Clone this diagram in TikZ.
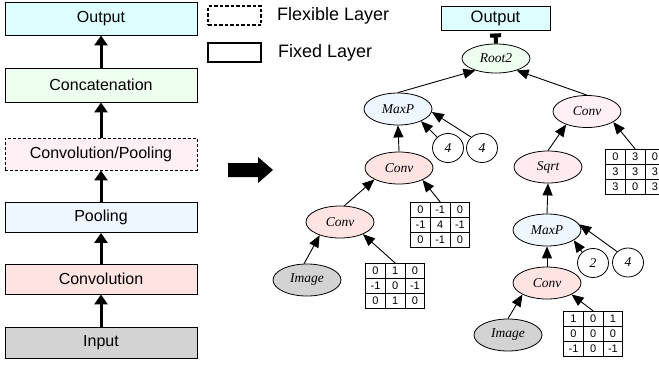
\documentclass[tikz,border=0pt]{standalone}
\usepackage{fontspec}
\setmainfont{Liberation Sans}
\newfontfamily\treefont{Liberation Serif}
\usetikzlibrary{arrows.meta,shapes.geometric,matrix}

\definecolor{outcol}{HTML}{DDFFFF}
\definecolor{catcol}{HTML}{EFFFEF}
\definecolor{flexcol}{HTML}{FFF0F5}
\definecolor{poolcol}{HTML}{EEF6FF}
\definecolor{convcol}{HTML}{FFE4E1}
\definecolor{incol}{HTML}{D3D3D3}
\definecolor{sqrtcol}{HTML}{FFEAF0}

\tikzset{
  layerbox/.style={draw, line width=0.9pt, minimum width=192pt, minimum height=31pt,
    inner sep=0pt, font=\fontsize{16}{18}\selectfont},
  flexbox/.style={layerbox, dash pattern=on 3pt off 2pt},
  flowarrow/.style={line width=3pt, -{Triangle[width=13pt,length=10pt]}},
  keybox/.style={draw, line width=1.1pt, minimum width=53pt, minimum height=19pt, inner sep=0pt},
  keytext/.style={anchor=west, inner sep=0pt, font=\fontsize{18}{20}\selectfont},
  opnode/.style={ellipse, draw, line width=0.8pt, minimum width=68pt, minimum height=32pt,
    inner sep=0pt, font=\treefont\itshape\fontsize{13.5}{15}\selectfont},
  leafnode/.style={ellipse, draw, line width=0.8pt, minimum width=31pt, minimum height=29pt,
    inner sep=0pt, fill=white, font=\treefont\itshape\fontsize{13.5}{15}\selectfont},
  treeedge/.style={line width=0.9pt, -{Triangle[width=10pt,length=12pt]}},
  cellgrid/.style={matrix of nodes, anchor=north west, inner sep=0pt,
    column sep=-0.9pt, row sep=-0.9pt,
    nodes={draw, line width=0.9pt, minimum width=19.7pt, minimum height=15pt,
      inner sep=0pt, anchor=center, font=\fontsize{11}{12}\selectfont}}
}

\begin{document}
\begin{tikzpicture}[x=1pt,y=-1pt]
\useasboundingbox (0,0) rectangle (659,365);

% layer stack
\node[layerbox, fill=outcol, minimum height=33pt] (lout) at (101,18.5) {Output};
\node[layerbox, fill=catcol, minimum height=34pt] (lcat) at (101,85) {Concatenation};
\node[flexbox, fill=flexcol, minimum height=32pt] (lflex) at (101,154) {Convolution/Pooling};
\node[layerbox, fill=poolcol, minimum height=30pt] (lpool) at (101,217.5) {Pooling};
\node[layerbox, fill=convcol, minimum height=30pt] (lconv) at (101,279) {Convolution};
\node[layerbox, fill=incol, minimum height=31pt] (lin) at (101,342.5) {Input};

\draw[flowarrow] (lin.north) -- (lconv.south);
\draw[flowarrow] (lconv.north) -- (lpool.south);
\draw[flowarrow] (lpool.north) -- (lflex.south);
\draw[flowarrow] (lflex.north) -- (lcat.south);
\draw[flowarrow] (lcat.north) -- (lout.south);

% legend
\node[keybox, dash pattern=on 3.5pt off 2pt] (kflex) at (234.5,15.5) {};
\node[keytext] (tflex) at (277,16) {Flexible Layer};
\node[keybox] (kfix) at (234.5,52.5) {};
\node[keytext] (tfix) at (278,52.5) {Fixed Layer};

% transition arrow
\fill (228,163) -- (258,163) -- (258,157) -- (273,170) -- (258,183) -- (258,177) -- (228,177) -- cycle;

% expression tree
\node[draw, line width=0.9pt, fill=outcol, minimum width=109pt, minimum height=24pt,
  inner sep=0pt, font=\fontsize{16.5}{18}\selectfont] (tout) at (495.5,18) {Output};
\node[opnode, fill=catcol, minimum height=29pt] (root) at (496,58.5) {Root2};

\node[opnode, fill=poolcol] (maxpl) at (398,109) {MaxP};
\node[leafnode] (fa) at (448,148) {4};
\node[leafnode] (fb) at (482,148) {4};
\node[opnode, fill=convcol] (convla) at (399,168) {Conv};
\node[opnode, fill=convcol] (convlb) at (340,222) {Conv};
\node[opnode, fill=incol] (imgl) at (307,280) {Image};
\matrix[cellgrid] (ma) at (410,202) {0 & -1 & 0\\ -1 & 4 & -1\\ 0 & -1 & 0\\};
\matrix[cellgrid] (mb) at (365,263) {0 & 1 & 0\\ -1 & 0 & -1\\ 0 & 1 & 0\\};

\node[opnode, fill=flexcol] (convr) at (587,111.5) {Conv};
\node[opnode, fill=sqrtcol] (sqrt) at (548,167) {Sqrt};
\matrix[cellgrid] (mc) at (605,149) {0 & 3 & 0\\ 3 & 3 & 3\\ 3 & 0 & 3\\};
\node[opnode, fill=poolcol] (maxpr) at (547,230) {MaxP};
\node[leafnode] (fc) at (593,263) {2};
\node[leafnode] (fd) at (628,262.5) {4};
\node[opnode, fill=convcol] (convrb) at (547,283) {Conv};
\node[opnode, fill=incol] (imgr) at (508,335) {Image};
\matrix[cellgrid] (md) at (563,311) {1 & 0 & 1\\ 0 & 0 & 0\\ -1 & 0 & -1\\};

% root to output
\draw[line width=4pt, -{Rectangle[width=11pt,length=4pt]}] (root.north) -- ([yshift=-3pt]tout.south);

% edges point from child to parent
\draw[treeedge] (maxpl.north) -- (root.-150);
\draw[treeedge] (convr.north) -- (root.-30);

\draw[treeedge] (convla.north) -- (maxpl.south);
\draw[treeedge] (fa.135) -- (maxpl.-28);
\draw[treeedge] (fb.135) -- (maxpl.-5);
\draw[treeedge] (convlb.75) -- (convla.-155);
\draw[treeedge] (ma.north) -- (convla.-27);
\draw[treeedge] (imgl.100) -- (convlb.-147);
\draw[treeedge] (mb.north) -- (convlb.-28);

\draw[treeedge] (sqrt.north) -- (convr.-148);
\draw[treeedge] (mc.north) -- (convr.-22);
\draw[treeedge] (maxpr.north) -- (sqrt.south);
\draw[treeedge] (fc.135) -- (maxpr.-21);
\draw[treeedge] (fd.135) -- (maxpr.10);
\draw[treeedge] (convrb.north) -- (maxpr.south);
\draw[treeedge] (imgr.north) -- (convrb.-155);
\draw[treeedge] (md.north) -- (convrb.-25);
\end{tikzpicture}
\end{document}
